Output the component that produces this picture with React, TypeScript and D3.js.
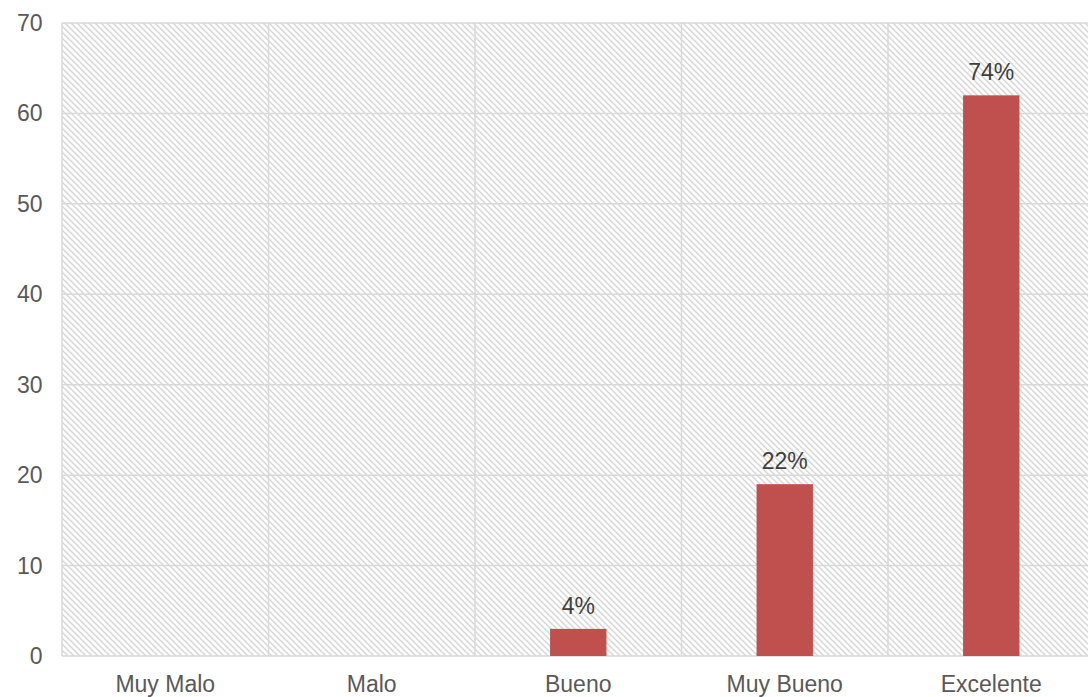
import React from "react";
import * as d3 from "d3";

const categories = ["Muy Malo", "Malo", "Bueno", "Muy Bueno", "Excelente"];
const counts = [0, 0, 3, 19, 62];
const percentLabels = ["", "", "4%", "22%", "74%"];
const yTicks = [0, 10, 20, 30, 40, 50, 60, 70];

const W = 1088;
const H = 697;
const left = 62;
const top = 23;
const bottom = 656;
const right = 1094.5;

export default function App() {
  const x = d3.scaleBand<string>().domain(categories).range([left, right]).paddingInner(0).paddingOuter(0);
  const y = d3.scaleLinear().domain([0, 70]).range([bottom, top]);
  const barW = x.bandwidth() * 0.273;
  const font = "'Liberation Sans', Arial, sans-serif";
  const grid = "#d9d9d9";
  const fs = 23;

  return (
    <svg width={W} height={H} style={{ position: "absolute", left: 0, top: 0 }} fontFamily={font}>
      <defs>
        <pattern id="hatch" patternUnits="userSpaceOnUse" width={6} height={6}>
          <rect width={6} height={6} fill="#ffffff" />
          <path d="M-1,-1 L7,7 M-1,5 L1,7 M5,-1 L7,1" stroke="#d6d6d6" strokeWidth={1.4} />
        </pattern>
      </defs>
      <rect x={0} y={0} width={W} height={H} fill="#ffffff" />
      <rect x={left} y={top} width={right - left} height={bottom - top} fill="url(#hatch)" />
      {yTicks.map((t) => (
        <line key={"h" + t} x1={left} x2={right} y1={y(t)} y2={y(t)} stroke={grid} strokeWidth={1.5} />
      ))}
      {categories.map((c) => (
        <line key={"v" + c} x1={x(c)!} x2={x(c)!} y1={top} y2={bottom} stroke={grid} strokeWidth={1.5} />
      ))}
      {yTicks.map((t) => (
        <text key={"t" + t} x={42.5} y={y(t) + 8} textAnchor="end" fontSize={fs} fill="#595959">
          {t}
        </text>
      ))}
      {categories.map((c, i) => {
        const cx = x(c)! + x.bandwidth() / 2;
        return (
          <g key={c}>
            {counts[i] > 0 && (
              <rect x={cx - barW / 2} y={y(counts[i])} width={barW} height={bottom - y(counts[i])} fill="#c0504d" />
            )}
            {percentLabels[i] && (
              <text x={cx} y={y(counts[i]) - 15} textAnchor="middle" fontSize={fs} fill="#404040">
                {percentLabels[i]}
              </text>
            )}
            <text x={cx} y={692} textAnchor="middle" fontSize={fs} fill="#595959">
              {c}
            </text>
          </g>
        );
      })}
    </svg>
  );
}
